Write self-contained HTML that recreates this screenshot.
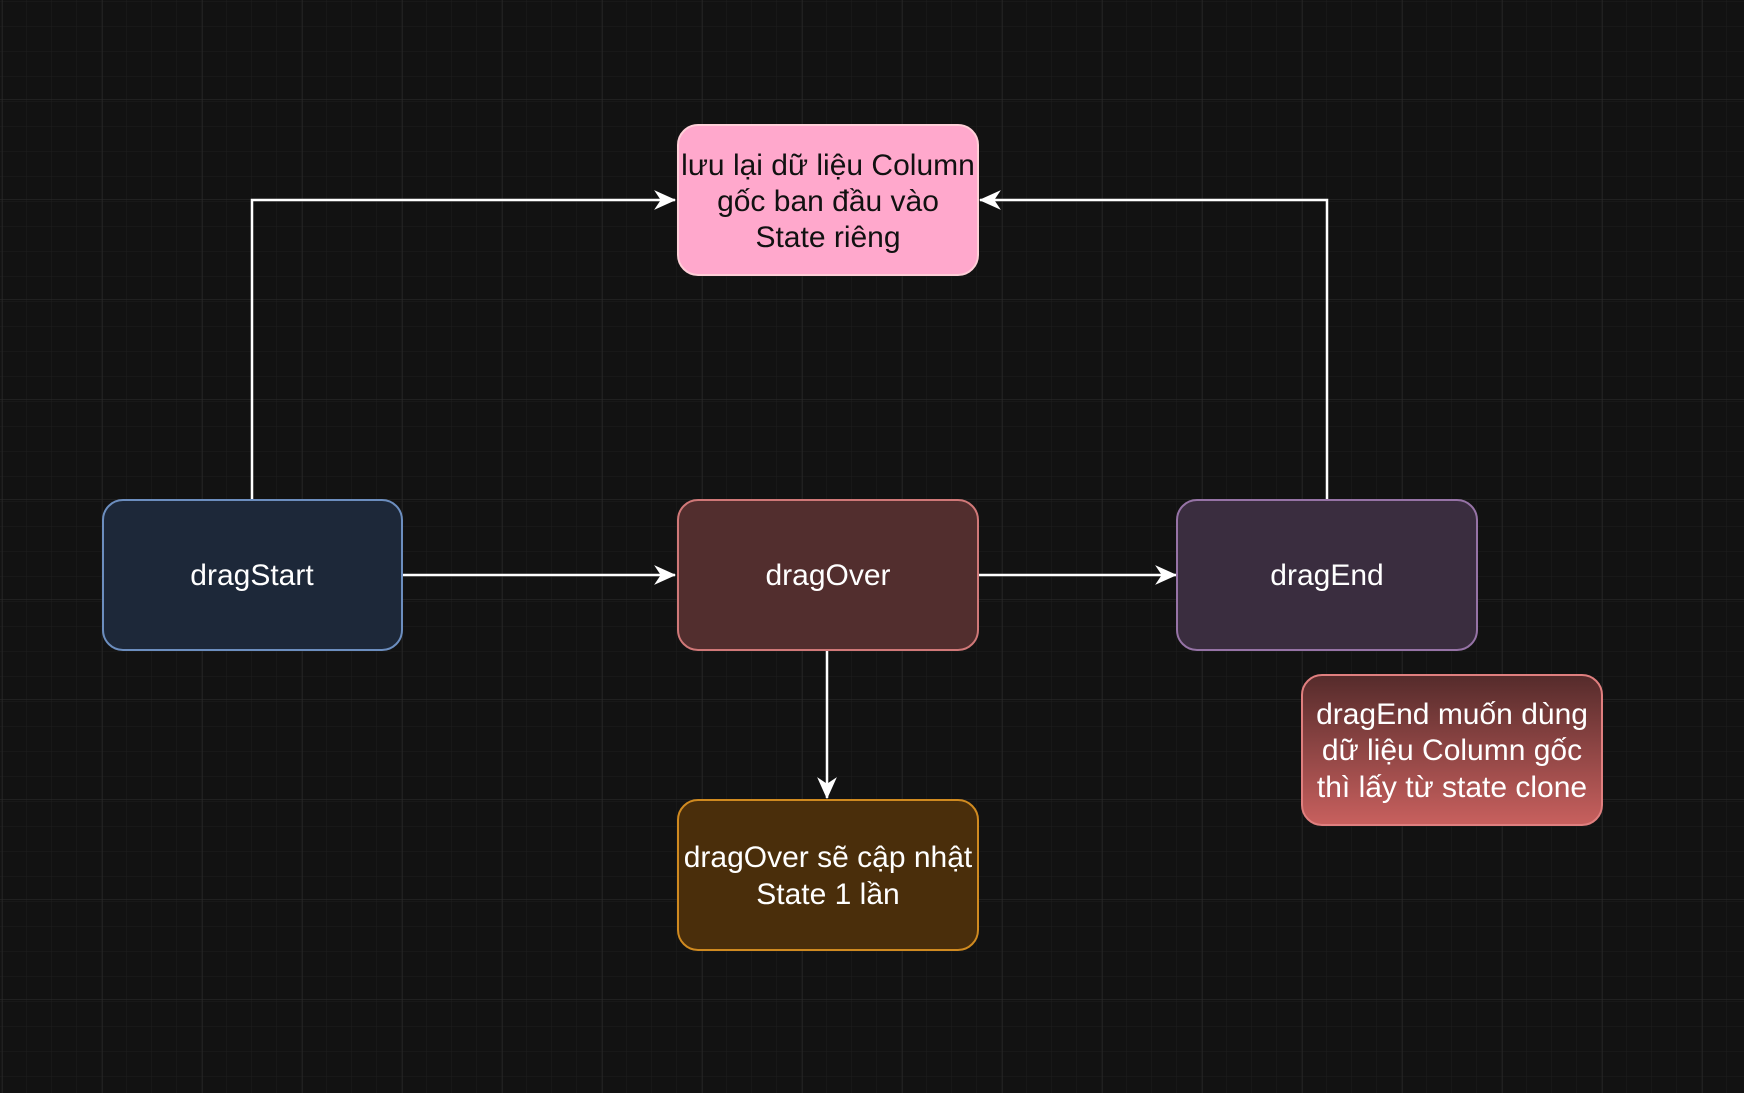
<!DOCTYPE html>
<html><head><meta charset="utf-8"><style>
html,body{margin:0;padding:0;background:#121212;}
svg{display:block}
text{font-family:"Liberation Sans",Arial,sans-serif;font-size:30px;text-anchor:middle;}
</style></head><body>
<svg width="1744" height="1093" viewBox="0 0 1744 1093" xmlns="http://www.w3.org/2000/svg">
<defs>
<pattern id="minor" x="2" y="2" width="25" height="25" patternUnits="userSpaceOnUse">
<path d="M25 0V25M0 25H25" stroke="#1e1e1e" stroke-width="1" fill="none"/>
</pattern>
<pattern id="major" x="2" y="-1" width="100" height="100" patternUnits="userSpaceOnUse">
<path d="M0 0V100M0 0H100" stroke="#2d2d2d" stroke-width="1" fill="none"/>
</pattern>
<linearGradient id="rg" x1="0" y1="0" x2="0" y2="1">
<stop offset="0" stop-color="#552b2b"/><stop offset="1" stop-color="#c8605e"/>
</linearGradient>
<marker id="ar" viewBox="0 0 20 20" refX="19" refY="10" markerWidth="22" markerHeight="22" markerUnits="userSpaceOnUse" orient="auto">
<path d="M0 1 L20 10 L0 19 L6 10 Z" fill="#fff"/>
</marker>
</defs>
<rect width="1744" height="1093" fill="#121212"/>
<rect width="1744" height="1093" fill="url(#minor)"/>
<rect width="1744" height="1093" fill="url(#major)"/>
<g stroke="#fff" stroke-width="2.5" fill="none">
<path d="M252 500V200H675" marker-end="url(#ar)"/>
<path d="M1327 500V200H980" marker-end="url(#ar)"/>
<path d="M402 575H675" marker-end="url(#ar)"/>
<path d="M978 575H1176" marker-end="url(#ar)"/>
<path d="M827 650V798" marker-end="url(#ar)"/>
</g>
<rect x="678" y="125" width="300" height="150" rx="20" fill="#ffa8cc" stroke="#ffcfd8" stroke-width="2"/>
<text fill="#111" x="828" y="175">lưu lại dữ liệu Column</text>
<text fill="#111" x="828" y="211">gốc ban đầu vào</text>
<text fill="#111" x="828" y="247">State riêng</text>
<rect x="103" y="500" width="299" height="150" rx="20" fill="#1d2839" stroke="#6c8ebf" stroke-width="2"/>
<text fill="#fff" x="252" y="585">dragStart</text>
<rect x="678" y="500" width="300" height="150" rx="20" fill="#522e2e" stroke="#d07878" stroke-width="2"/>
<text fill="#fff" x="828" y="585">dragOver</text>
<rect x="1177" y="500" width="300" height="150" rx="20" fill="#3a2d3f" stroke="#9673a6" stroke-width="2"/>
<text fill="#fff" x="1327" y="585">dragEnd</text>
<rect x="678" y="800" width="300" height="150" rx="20" fill="#4a2e0b" stroke="#d08a20" stroke-width="2"/>
<text fill="#fff" x="828" y="867">dragOver sẽ cập nhật</text>
<text fill="#fff" x="828" y="904">State 1 lần</text>
<rect x="1302" y="675" width="300" height="150" rx="20" fill="url(#rg)" stroke="#e07f7f" stroke-width="2"/>
<text fill="#fff" x="1452" y="724">dragEnd muốn dùng</text>
<text fill="#fff" x="1452" y="760">dữ liệu Column gốc</text>
<text fill="#fff" x="1452" y="797">thì lấy từ state clone</text>
</svg>
</body></html>
